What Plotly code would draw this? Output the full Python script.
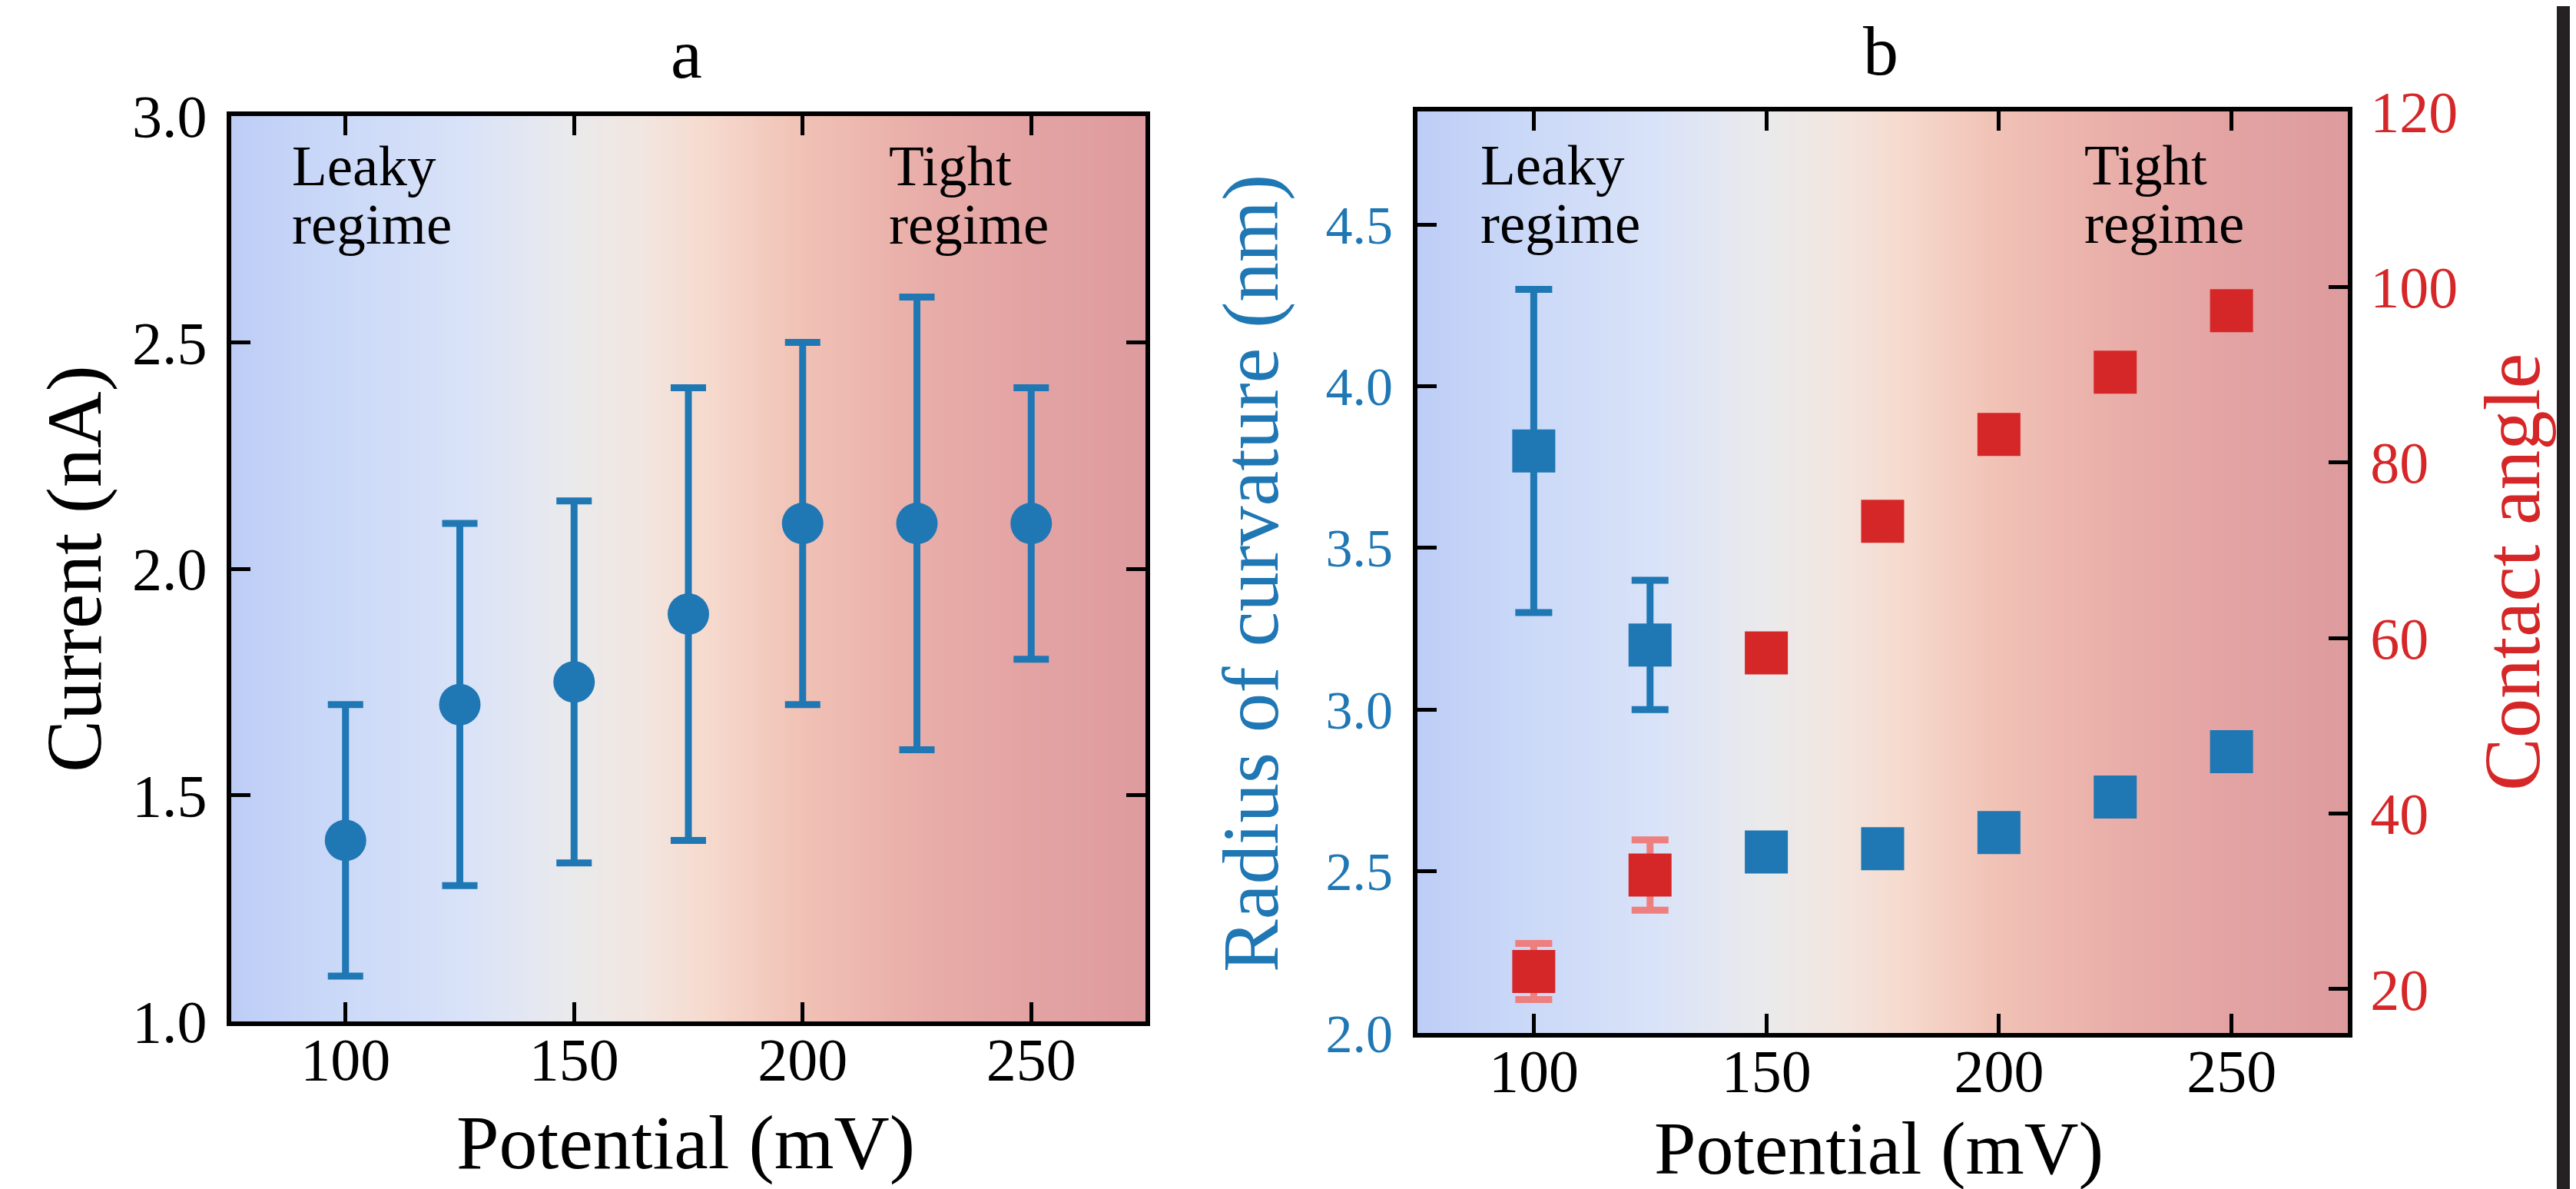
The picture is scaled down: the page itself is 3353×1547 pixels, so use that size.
import plotly.graph_objects as go
import numpy as np

# ---------------- data ----------------
potential = [100, 125, 150, 175, 200, 225, 250]

current = [1.4, 1.7, 1.75, 1.9, 2.1, 2.1, 2.1]
current_err = [0.3, 0.4, 0.4, 0.5, 0.4, 0.5, 0.3]

radius = [3.8, 3.2, 2.56, 2.57, 2.62, 2.73, 2.87]
radius_err = [0.5, 0.2, 0, 0, 0, 0, 0]

angle = [22, 33, 58.3, 73.3, 83.2, 90.3, 97.3]
angle_err = [3.2, 4.0, 0, 0, 0, 0, 0]

x_ticks = [100, 150, 200, 250]
cur_ticks = [1.0, 1.5, 2.0, 2.5, 3.0]
rad_ticks = [2.0, 2.5, 3.0, 3.5, 4.0, 4.5]
ang_ticks = [20, 40, 60, 80, 100, 120]

# background gradient (coolwarm-like, translucent over white)
grad_pos = [0.0, 0.12, 0.25, 0.37, 0.45, 0.52, 0.62, 0.75, 0.87, 1.0]
grad_col = ["rgb(190,205,246)", "rgb(203,217,248)", "rgb(216,226,248)",
            "rgb(234,234,236)", "rgb(242,230,224)", "rgb(246,218,206)",
            "rgb(241,194,182)", "rgb(233,174,169)", "rgb(227,163,163)",
            "rgb(222,155,158)"]
grad_x = list(np.linspace(60, 290, 47))

BLUE = "#1f77b4"
RED = "#d62728"
RED_ERR = "#ee7f7f"

W, H = 3353, 1547
def px(x): return x / W
def py(y): return 1 - y / H

SERIF = "Liberation Serif"

colorscale = [[p, c] for p, c in zip(grad_pos, grad_col)]

fig = go.Figure()

# gradient backgrounds
fig.add_trace(go.Heatmap(x=grad_x, y=[0.5, 3.5], z=[grad_x, grad_x], zmin=75, zmax=275,
                         colorscale=colorscale, zsmooth="best", showscale=False,
                         hoverinfo="skip", xaxis="x", yaxis="y"))
fig.add_trace(go.Heatmap(x=grad_x, y=[1.5, 5.5], z=[grad_x, grad_x], zmin=75, zmax=275,
                         colorscale=colorscale, zsmooth="best", showscale=False,
                         hoverinfo="skip", xaxis="x2", yaxis="y2"))

# panel a
fig.add_trace(go.Scatter(x=potential, y=current, mode="markers",
                         marker=dict(symbol="circle", size=54, color=BLUE),
                         error_y=dict(type="data", array=current_err, color=BLUE,
                                      thickness=9, width=23),
                         xaxis="x", yaxis="y", showlegend=False))

# panel b
fig.add_trace(go.Scatter(x=potential, y=radius, mode="markers",
                         marker=dict(symbol="square", size=56, color=BLUE),
                         error_y=dict(type="data", array=radius_err, color=BLUE,
                                      thickness=9, width=24),
                         xaxis="x2", yaxis="y2", showlegend=False))
fig.add_trace(go.Scatter(x=potential, y=angle, mode="markers",
                         marker=dict(symbol="square", size=56, color=RED),
                         error_y=dict(type="data", array=angle_err, color=RED_ERR,
                                      thickness=9, width=24),
                         xaxis="x2", yaxis="y3", showlegend=False))

axis_common = dict(showgrid=False, zeroline=False, showline=True, linecolor="black",
                   linewidth=6, ticks="inside", ticklen=25, tickwidth=5,
                   tickcolor="black", automargin=False)

fig.update_layout(
    template="none",
    width=W, height=H,
    margin=dict(l=0, r=0, t=0, b=0, pad=0, autoexpand=False),
    paper_bgcolor="white", plot_bgcolor="white",
    xaxis=dict(domain=[px(293), px(1483)], range=[75, 275], tickvals=x_ticks,
               mirror="ticks", anchor="y", ticklabelstandoff=-24,
               tickfont=dict(family=SERIF, size=78, color="black"), **axis_common),
    yaxis=dict(domain=[py(1321), py(143)], range=[1, 3], tickvals=cur_ticks,
               tickformat=".1f", mirror="ticks", anchor="x", ticklabelstandoff=10,
               tickfont=dict(family=SERIF, size=78, color="black"), **axis_common),
    xaxis2=dict(domain=[px(1837), px(3048)], range=[75, 275], tickvals=x_ticks,
                mirror="ticks", anchor="y2", ticklabelstandoff=-24,
                tickfont=dict(family=SERIF, size=78, color="black"), **axis_common),
    yaxis2=dict(domain=[py(1336), py(137)], range=[2.0, 4.85], tickvals=rad_ticks,
                tickformat=".1f", anchor="x2", ticklabelstandoff=12,
                tickfont=dict(family=SERIF, size=70, color=BLUE), **axis_common),
    yaxis3=dict(overlaying="y2", side="right", range=[15, 120], tickvals=ang_ticks,
                anchor="x2", ticklabelstandoff=8,
                tickfont=dict(family=SERIF, size=76, color=RED), **axis_common),
)

ann = []
def text(x, y, t, size, color="black", angle=0, xanchor="center", yanchor="middle"):
    ann.append(dict(x=px(x), y=py(y), xref="paper", yref="paper", text=t, showarrow=False,
                    font=dict(family=SERIF, size=size, color=color), textangle=angle,
                    xanchor=xanchor, yanchor=yanchor))

# panel titles
text(886, 62, "a", 92)
text(2440, 58, "b", 92)
# axis titles
text(884, 1478, "Potential (mV)", 100)
text(2437, 1486, "Potential (mV)", 98)
text(88, 732, "Current (nA)", 102, angle=-90)
text(1620, 738, "Radius of curvature (nm)", 103, color=BLUE, angle=-90)
text(3262, 737, "Contact angle", 103, color=RED, angle=-90)
# regime labels
for lx, ty in [(370, 208), (1917, 207)]:
    text(lx, ty, "Leaky", 75, xanchor="left")
    text(lx, ty + 75, "regime", 75, xanchor="left")
for lx, ty in [(1147, 208), (2703, 207)]:
    text(lx, ty, "Tight", 75, xanchor="left")
    text(lx, ty + 75, "regime", 75, xanchor="left")

fig.update_layout(annotations=ann)

# dark strip at right edge of the picture
fig.add_shape(type="rect", xref="paper", yref="paper", x0=px(3320), x1=1, y0=0, y1=1,
              fillcolor="rgb(37,33,34)", line=dict(width=0), layer="above")

fig.write_html("out.html")
